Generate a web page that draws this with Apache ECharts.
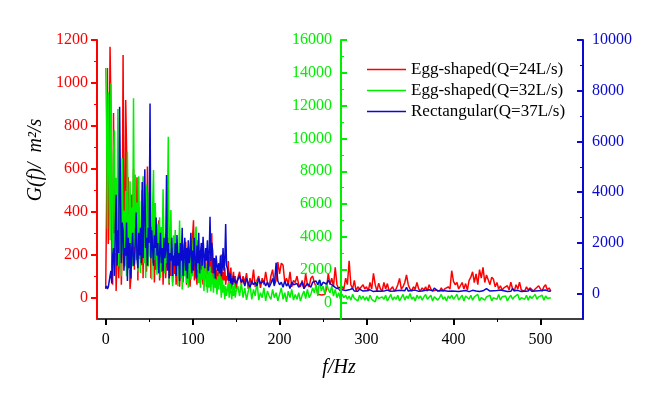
<!DOCTYPE html>
<html>
<head>
<meta charset="utf-8">
<script src="https://cdn.jsdelivr.net/npm/echarts@6/dist/echarts.min.js"></script>
<style>
  html, body { margin: 0; padding: 0; background: #fff; }
  #chart { width: 649px; height: 399px; }
</style>
</head>
<body>
<div id="chart"></div>
<script>
// sampling: 1 Hz steps for 0-150 Hz, then 2 Hz steps from 152 Hz up to 512 Hz
const lowStep = 1
const highStart = 152
const highStep = 2

const seriesNames = ['Egg-shaped(Q=24L/s)', 'Egg-shaped(Q=32L/s)', 'Rectangular(Q=37L/s)']

// G(f), red axis units, 0-150 Hz
const egg24Low = [
  40, 420, 1070, 250, 620, 1169, 900, 140, 60, 860,
  300, 520, 30, 180, 480, 90, 210, 400, 60, 250,
  1130, 380, 150, 920, 700, 150, 560, 300, 40, 90,
  480, 220, 600, 130, 350, 250, 560, 80, 420, 180,
  320, 150, 500, 90, 380, 200, 260, 120, 610, 300,
  200, 450, 90, 300, 160, 380, 70, 240, 130, 280,
  150, 360, 80, 220, 120, 300, 60, 180, 250, 90,
  210, 140, 280, 60, 190, 100, 230, 70, 160, 110,
  240, 60, 170, 120, 200, 50, 150, 90, 220, 70,
  160, 110, 260, 60, 140, 90, 180, 50, 130, 210,
  290, 360, 80, 190, 120, 60, 250, 90, 150, 70,
  200, 110, 60, 170, 90, 140, 50, 210, 130, 80,
  190, 110, 300, 70, 160, 90, 50, 130, 80, 110,
  150, 60, 100, 200, 50, 120, 80, 140, 60, 100,
  80, 170, 50, 110, 140, 40, 90, 120, 60, 100,
  40
]
// G(f), red axis units, 152-512 Hz
const egg24High = [
  90, 120, 60, 100,
  70, 114, 40, 90, 60, 130, 50, 80, 100, 45,
  90, 60, 120, 70, 50, 100, 130, 60, 80, 165,
  110, 160, 150, 70, 90, 60, 120, 50, 80, 70,
  100, 60, 50, 80, 40, 110, 60, 50, 90, 100,
  70, 50, 15, 20, 12, 18, 14, 40, 113, 60,
  90, 50, 141, 60, 40, 30, 50, 40, 90, 60,
  171, 60, 40, 80, 30, 50, 40, 35, 60, 40,
  50, 30, 70, 40, 113, 60, 30, 67, 40, 30,
  70, 40, 65, 30, 40, 50, 30, 40, 60, 89,
  40, 50, 70, 105, 60, 40, 30, 50, 40, 70,
  40, 30, 45, 35, 50, 30, 60, 40, 30, 30,
  35, 40, 30, 45, 30, 40, 35, 50, 40, 125,
  75, 60, 70, 40, 55, 70, 40, 65, 35, 80,
  95, 120, 70, 110, 60, 130, 90, 141, 70, 105,
  110, 60, 95, 85, 50, 70, 40, 55, 35, 45,
  40, 55, 35, 72, 40, 30, 60, 40, 72, 35,
  40, 30, 50, 35, 45, 50, 30, 40, 35, 55,
  40, 30, 50, 60, 35, 45, 30
]

// G(f), green axis units, 0-150 Hz
const egg32Low = [
  14300, 11000, 4500, 12800, 8500, 3800, 13360, 6000, 2500, 9000,
  10500, 3000, 7600, 4200, 11800, 2200, 6800, 5200, 1600, 8800,
  3000, 5600, 2200, 6800, 1600, 9200, 4800, 2000, 7400, 3400,
  5800, 2200, 12450, 3400, 7800, 2600, 6100, 1900, 7700, 4100,
  1800, 6200, 3000, 7700, 2400, 5400, 1500, 7200, 3600, 2200,
  6700, 2800, 4600, 1400, 5800, 8080, 2600, 6070, 3600, 1700,
  4800, 2000, 5200, 1500, 4600, 2800, 6900, 3600, 1800, 4200,
  2400, 5600, 10110, 1200, 3800, 5640, 2400, 1000, 4100, 2600,
  4420, 1800, 3600, 1000, 2900, 5000, 1500, 3300, 800, 2400,
  3600, 1600, 2800, 1200, 3400, 900, 2200, 3000, 1400, 3900,
  1600, 3200, 2400, 4200, 4630, 2000, 3800, 1200, 2600, 900,
  2000, 1400, 2800, 700, 1800, 2400, 1300, 600, 2000, 900,
  2200, 700, 1800, 1300, 600, 2000, 900, 1400, 500, 1600,
  800, 1900, 1200, 300, 1400, 600, 1100, 200, 1000, 400,
  800, 1200, 300, 1400, 600, 200, 1000, 400, 1200, 300,
  700
]
// G(f), green axis units, 152-512 Hz
const egg32High = [
  1000, 400, 1200, 300,
  900, 160, 700, 1100, 200, 800, 400, 1300, 150, 600,
  300, 900, 100, 700, 400, 200, 800, 300, 600, 100,
  500, 900, 200, 600, 50, 700, 300, 800, 150, 500,
  200, 600, 100, 450, 700, 250, 800, 300, 500, 900,
  600, 1100, 400, 1380, 700, 1000, 500, 1200, 800, 600,
  1000, 400, 800, 300, 600, 200, 500, 300, 450, 200,
  400, 150, 500, 250, 350, 100, 450, 200, 400, 150,
  350, 100, 450, 200, 300, 50, 400, 250, 150, 350,
  200, 450, 100, 300, 500, 150, 350, 200, 450, 100,
  300, 500, 150, 400, 250, 550, 200, 350, 100, 450,
  250, 400, 150, 350, 500, 200, 300, 450, 100, 350,
  400, 150, 300, 500, 200, 350, 100, 400, 250, 450,
  200, 350, 500, 150, 300, 450, 100, 400, 300, 200,
  450, 150, 350, 250, 500, 100, 300, 400, 150, 350,
  250, 450, 100, 300, 400, 200, 500, 150, 350, 250,
  400, 100, 300, 450, 200, 350, 250, 500, 150, 300,
  350, 200, 450, 150, 400, 250, 300, 500, 200, 350,
  300, 450, 150, 400, 250, 350, 300
]

// G(f), blue axis units, 0-150 Hz
const rect37Low = [
  220, 300, 180, 260, 300, 700, 900, 400, 1500, 1800,
  700, 2400, 3900, 1100, 2500, 1600, 7370, 4200, 1200, 2800,
  2500, 900, 1800, 1500, 2800, 500, 2200, 1000, 2000, 600,
  1700, 2400, 1100, 1200, 2000, 3200, 1400, 1000, 2400, 1500,
  2600, 1200, 4400, 1400, 3000, 4900, 1800, 2200, 1100, 2600,
  2000, 7500, 1400, 2500, 1800, 1100, 2300, 1800, 3000, 1500,
  2000, 800, 1600, 2400, 1200, 1800, 900, 2200, 1400, 1700,
  4680, 900, 2000, 600, 1600, 1300, 2200, 700, 1500, 1100,
  1990, 700, 2310, 1100, 1600, 500, 2000, 1300, 2600, 700,
  1500, 2200, 900, 1800, 600, 2100, 1200, 1600, 2400, 800,
  1700, 900, 2200, 1400, 600, 1900, 1200, 2400, 800, 1600,
  2000, 1100, 2240, 1500, 1000, 1800, 1300, 2100, 900, 1500,
  3030, 1300, 2000, 1700, 800, 1400, 600, 1500, 1100, 900,
  1200, 800, 1500, 700, 1000, 1800, 900, 1300, 2745, 1100,
  1000, 700, 500, 800, 400, 600, 350, 700, 450, 550,
  400
]
// G(f), blue axis units, 152-512 Hz
const rect37High = [
  350, 700, 450, 550,
  300, 600, 400, 250, 500, 350, 450, 300, 600, 400,
  350, 500, 300, 450, 250, 400, 600, 300, 1220, 500,
  350, 450, 250, 500, 300, 400, 200, 450, 350, 300,
  400, 250, 350, 450, 200, 300, 400, 350, 250, 450,
  400, 500, 350, 540, 300, 450, 500, 380, 520, 400,
  350, 300, 250, 200, 180, 250, 150, 200, 120, 180,
  150, 120, 200, 100, 150, 90, 180, 120, 100, 140,
  110, 90, 150, 100, 80, 130, 100, 160, 90, 120,
  100, 80, 140, 110, 90, 150, 100, 80, 120, 100,
  130, 90, 110, 250, 100, 80, 120, 90, 140, 110,
  90, 120, 100, 80, 130, 100, 150, 90, 110, 220,
  180, 100, 90, 120, 80, 110, 100, 90, 130, 100,
  120, 90, 110, 80, 140, 100, 90, 120, 100, 80,
  110, 130, 90, 100, 120, 80, 150, 110, 90, 200,
  130, 100, 90, 110, 80, 120, 100, 140, 90, 110,
  100, 80, 120, 90, 200, 110, 90, 130, 100, 80,
  120, 90, 110, 100, 180, 90, 120, 100, 160, 110,
  90, 120, 100, 140, 110, 90, 100
]

const xMajor = [0, 100, 200, 300, 400, 500]
const xMinor = [50, 150, 250, 350, 450]
const redMajor = [0, 200, 400, 600, 800, 1000, 1200]
const redMinor = [100, 300, 500, 700, 900, 1100]
const greenMajor = [0, 2000, 4000, 6000, 8000, 10000, 12000, 14000, 16000]
const greenMinor = [1000, 3000, 5000, 7000, 9000, 11000, 13000, 15000]
const blueMajor = [0, 2000, 4000, 6000, 8000, 10000]
const blueMinor = [1000, 3000, 5000, 7000, 9000]

const RED = '#ff0000'
const GREEN = '#00ee00'
const BLUE = '#0a0ad0'
const FONT = 'Liberation Serif'

function toPairs (low, high) {
  let pts = low.map((v, i) => [i * lowStep, v])
  return pts.concat(high.map((v, i) => [highStart + i * highStep, v]))
}

function plain (v) {
  return String(v)
}

function yMain (color, min, max, major, pos, offset, inside) {
  return {
    type: 'value', position: pos, offset: offset, min: min, max: max, z: 3,
    axisLine: { show: true, onZero: false, lineStyle: { color: color, width: 2 } },
    axisTick: { show: true, inside: inside, length: 6, customValues: major, lineStyle: { color: color, width: 2 } },
    axisLabel: { show: true, customValues: major, formatter: plain, margin: 9, color: color, fontFamily: FONT, fontSize: 16 },
    splitLine: { show: false }
  }
}

function yMinor (color, min, max, minor, pos, offset, inside) {
  return {
    type: 'value', position: pos, offset: offset, min: min, max: max, z: 3,
    axisLine: { show: false, onZero: false },
    axisTick: { show: true, inside: inside, length: 3, customValues: minor, lineStyle: { color: color, width: 1 } },
    axisLabel: { show: false },
    splitLine: { show: false }
  }
}

let chart = echarts.init(document.getElementById('chart'))
chart.setOption({
  animation: false,
  backgroundColor: '#fff',
  grid: { left: 97, right: 66, top: 40, bottom: 80 },
  legend: {
    orient: 'vertical', left: 362, top: 56,
    itemWidth: 39, itemHeight: 1.5, itemGap: 4, icon: 'rect',
    data: seriesNames,
    textStyle: { fontFamily: FONT, fontSize: 17, color: '#000' }
  },
  xAxis: [
    {
      type: 'value', min: -10, max: 549, position: 'bottom',
      axisLine: { show: true, onZero: false, lineStyle: { color: '#000', width: 1.5 } },
      axisTick: { show: true, length: 6, customValues: xMajor, lineStyle: { color: '#000', width: 2 } },
      axisLabel: { customValues: xMajor, formatter: plain, margin: 13, color: '#000', fontFamily: FONT, fontSize: 16 },
      splitLine: { show: false }
    },
    {
      type: 'value', min: -10, max: 549, position: 'bottom',
      axisLine: { show: false, onZero: false },
      axisTick: { show: true, length: 3, customValues: xMinor, lineStyle: { color: '#000', width: 1 } },
      axisLabel: { show: false },
      splitLine: { show: false }
    }
  ],
  yAxis: [
    yMain(RED, -100, 1200, redMajor, 'left', 0, false),
    yMinor(RED, -100, 1200, redMinor, 'left', 0, false),
    yMain(GREEN, -1000, 16000, greenMajor, 'left', -244, true),
    yMinor(GREEN, -1000, 16000, greenMinor, 'left', -244, true),
    yMain(BLUE, -1000, 10000, blueMajor, 'right', 0, true),
    yMinor(BLUE, -1000, 10000, blueMinor, 'right', 0, true)
  ],
  graphic: [
    {
      type: 'text', x: 36, y: 160, rotation: Math.PI / 2,
      style: { text: 'G(f)/  m²/s', fontFamily: FONT, fontSize: 20, fontStyle: 'italic', fill: '#000', align: 'center', verticalAlign: 'middle' }
    },
    {
      type: 'text', x: 339, y: 368,
      style: { text: 'f/Hz', fontFamily: FONT, fontSize: 20, fontStyle: 'italic', fill: '#000', align: 'center', verticalAlign: 'middle' }
    }
  ],
  series: [
    {
      name: seriesNames[0], type: 'line', xAxisIndex: 0, yAxisIndex: 0,
      data: toPairs(egg24Low, egg24High), symbol: 'none', color: RED,
      lineStyle: { width: 1.5, color: RED }, z: 2
    },
    {
      name: seriesNames[1], type: 'line', xAxisIndex: 0, yAxisIndex: 2,
      data: toPairs(egg32Low, egg32High), symbol: 'none', color: GREEN,
      lineStyle: { width: 1.5, color: GREEN }, z: 2
    },
    {
      name: seriesNames[2], type: 'line', xAxisIndex: 0, yAxisIndex: 4,
      data: toPairs(rect37Low, rect37High), symbol: 'none', color: BLUE,
      lineStyle: { width: 1.5, color: BLUE }, z: 2
    }
  ]
})
</script>
</body>
</html>
